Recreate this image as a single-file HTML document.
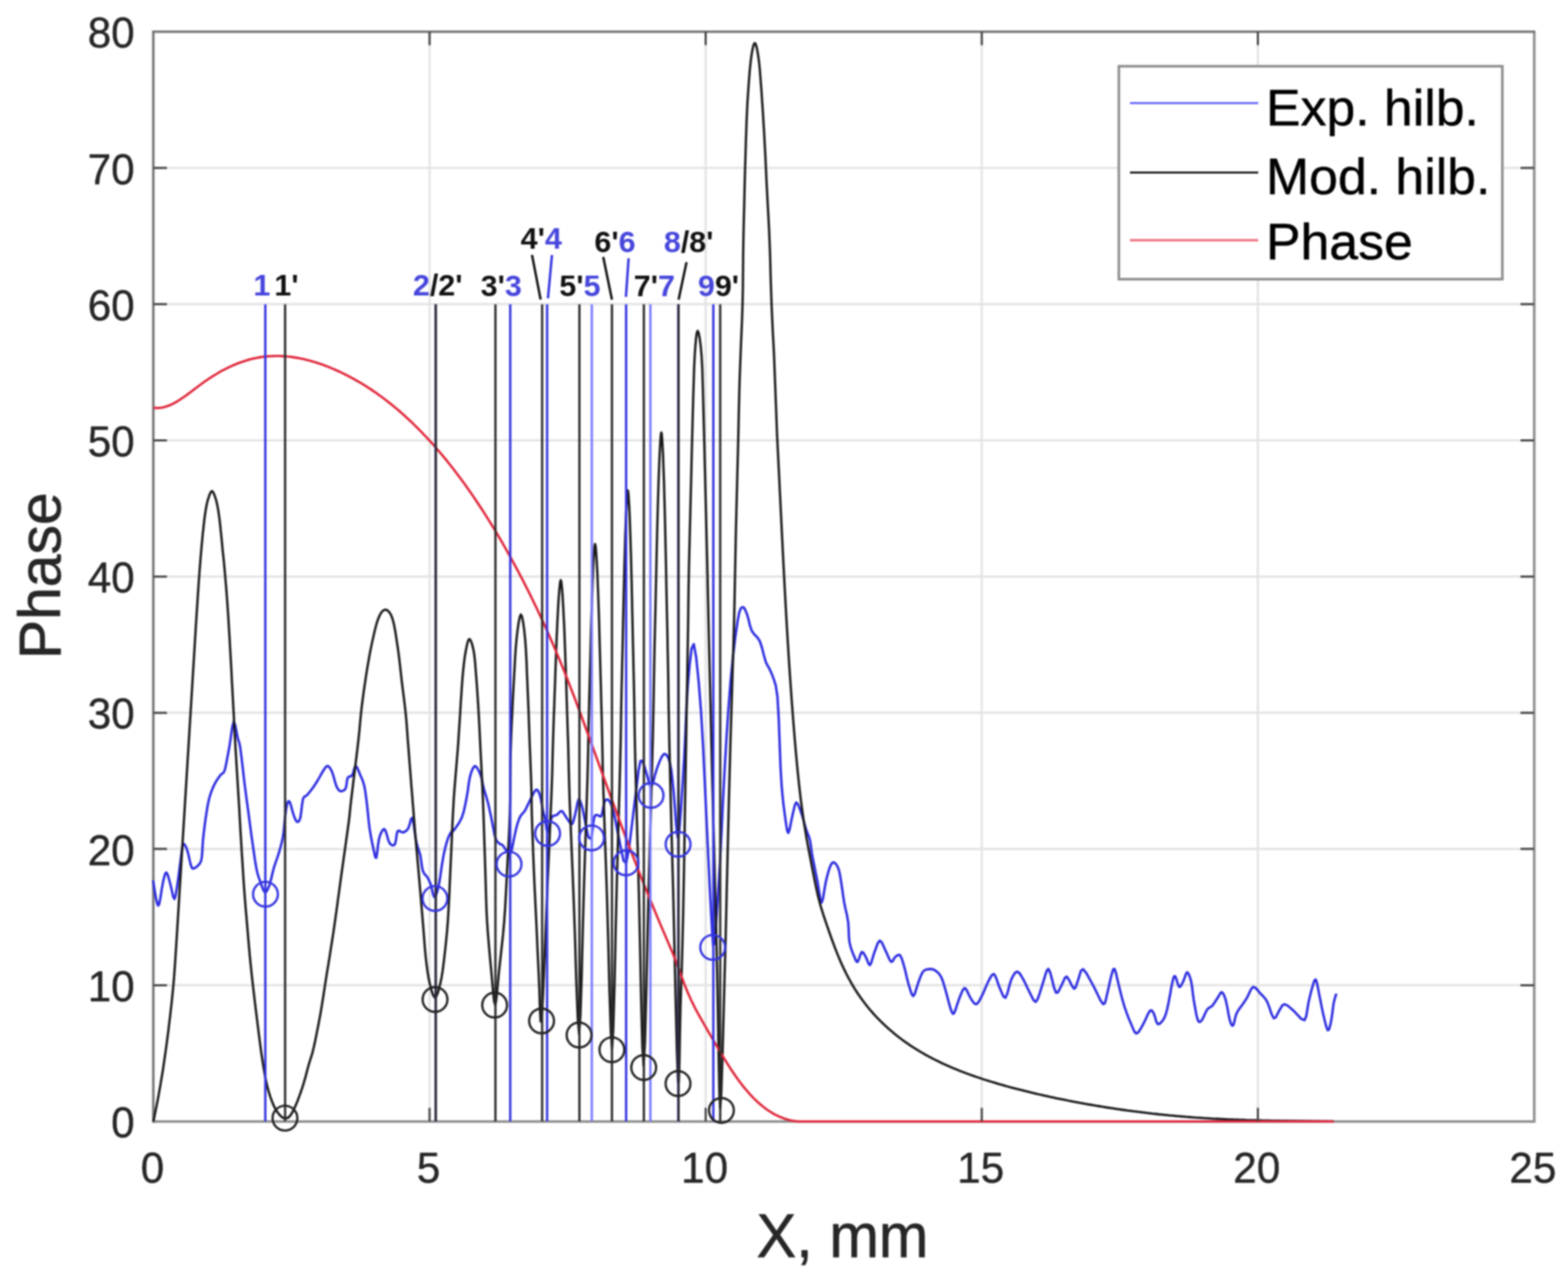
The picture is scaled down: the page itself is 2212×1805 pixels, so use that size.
<!DOCTYPE html>
<html><head><meta charset="utf-8"><style>html,body{margin:0;padding:0;background:#fff}svg{display:block}</style></head>
<body><svg width="2212" height="1805" viewBox="0 0 2212 1805"><defs><filter id="bl" x="0" y="0" width="1" height="1" color-interpolation-filters="sRGB"><feGaussianBlur stdDeviation="0.85"/></filter></defs><rect width="100%" height="100%" fill="#fff"/><g filter="url(#bl)"><rect width="100%" height="100%" fill="#fff"/><path d="M606.0 44.8V1582.6 M995.5 44.8V1582.6 M1385.0 44.8V1582.6 M1774.5 44.8V1582.6 M216.5 1390.4H2164 M216.5 1198.1H2164 M216.5 1005.9H2164 M216.5 813.7H2164 M216.5 621.5H2164 M216.5 429.2H2164 M216.5 237.0H2164" stroke="#e4e4e4" stroke-width="3.2" fill="none"/><path d="M216.3 1582.8H2164.4V44.8" fill="none" stroke="#8c8c8c" stroke-width="3.6"/><path d="M216.3 1584.5V44.8H2166" fill="none" stroke="#777" stroke-width="3.6"/><polyline points="216.0,1242.5 217.2,1250.6 219.0,1261.9 220.7,1270.7 221.9,1275.6 223.1,1278.1 224.4,1276.3 226.2,1267.8 228.2,1255.0 230.1,1244.4 231.7,1237.5 233.2,1232.7 234.8,1231.2 236.6,1234.5 238.5,1241.1 240.4,1248.1 242.3,1256.4 244.2,1265.1 246.1,1268.8 247.7,1264.1 249.3,1254.5 250.8,1244.4 252.1,1235.1 253.3,1225.4 254.5,1216.2 255.7,1206.6 256.9,1197.4 258.3,1191.7 260.0,1191.3 262.0,1194.4 263.9,1199.2 265.9,1206.3 267.8,1215.1 269.5,1221.8 270.8,1224.8 271.8,1225.7 273.3,1225.6 275.7,1224.5 278.5,1222.4 280.8,1219.9 282.4,1217.7 283.6,1215.1 284.6,1210.5 285.3,1203.1 285.8,1193.9 286.5,1184.2 287.6,1174.2 288.9,1163.7 290.2,1154.1 291.5,1145.7 292.7,1138.1 294.0,1131.6 295.2,1126.5 296.4,1122.5 297.7,1118.4 299.4,1114.0 301.3,1109.5 303.4,1105.3 305.8,1101.2 308.5,1097.3 310.9,1094.0 313.0,1092.1 314.9,1090.9 316.5,1088.3 317.9,1083.7 319.1,1077.8 320.3,1071.4 321.5,1065.2 322.7,1058.6 324.1,1050.8 325.8,1038.9 327.7,1025.8 329.7,1018.8 331.6,1022.6 333.6,1032.4 335.3,1041.4 336.7,1045.7 337.8,1049.3 339.1,1056.4 340.8,1069.8 342.8,1086.8 344.7,1103.4 346.6,1118.1 348.5,1132.5 350.4,1146.6 352.3,1160.7 354.1,1174.5 356.0,1188.0 357.9,1201.5 359.8,1214.6 361.7,1225.6 363.5,1233.4 365.3,1239.1 367.3,1244.4 369.4,1250.6 371.6,1256.5 373.9,1259.4 376.1,1258.0 378.3,1253.7 380.5,1248.1 382.3,1241.4 384.1,1233.5 386.1,1225.6 388.5,1218.0 391.2,1210.5 393.6,1203.0 395.7,1195.6 397.6,1188.2 399.2,1180.5 400.4,1171.7 401.2,1162.5 402.1,1154.1 403.0,1146.8 403.9,1140.2 404.9,1135.3 406.0,1132.1 407.2,1130.6 408.6,1131.6 410.4,1136.5 412.4,1144.0 414.3,1150.4 415.9,1154.8 417.5,1158.1 419.0,1159.8 420.6,1159.8 422.2,1158.1 423.7,1154.1 424.9,1146.1 426.1,1135.8 427.4,1127.8 429.1,1124.5 431.0,1123.6 433.1,1122.2 435.4,1119.4 438.0,1116.2 440.6,1112.8 443.1,1109.2 445.6,1105.5 448.1,1101.5 450.7,1097.0 453.2,1092.4 455.6,1088.3 457.9,1084.8 460.1,1081.9 462.2,1080.8 464.4,1082.4 466.7,1085.8 468.8,1090.2 470.7,1096.2 472.6,1103.2 474.4,1109.0 476.2,1112.8 478.1,1115.3 480.1,1116.5 482.6,1116.5 485.4,1115.3 487.6,1112.8 488.7,1108.2 489.4,1102.3 490.4,1097.7 492.4,1096.0 494.8,1095.5 497.0,1094.0 498.6,1089.3 500.1,1083.6 501.7,1080.8 503.8,1083.2 506.1,1088.5 508.3,1094.0 510.3,1098.4 512.2,1103.1 513.9,1109.0 515.3,1116.7 516.5,1125.6 517.7,1135.3 518.9,1146.2 520.0,1157.9 521.4,1169.2 523.2,1180.2 525.3,1190.8 527.1,1199.2 528.5,1205.8 529.6,1210.2 530.8,1210.5 532.0,1204.1 533.2,1193.4 534.6,1184.2 536.4,1178.3 538.4,1173.8 540.2,1171.1 541.5,1170.0 542.7,1170.6 544.0,1172.9 545.7,1178.0 547.5,1184.8 549.6,1189.8 552.1,1192.4 554.8,1193.2 557.1,1191.7 558.5,1186.2 559.5,1178.4 560.9,1172.9 563.1,1172.3 565.8,1174.0 568.4,1174.8 571.0,1173.8 573.6,1172.0 575.9,1169.2 578.0,1163.0 579.8,1155.9 581.6,1154.1 583.5,1162.4 585.3,1176.0 587.2,1188.0 589.2,1195.2 591.1,1200.8 592.9,1206.8 594.1,1214.5 595.2,1222.7 596.6,1229.3 598.7,1233.3 601.0,1235.7 603.2,1238.5 605.1,1242.2 606.8,1246.2 608.4,1250.6 609.8,1256.7 611.2,1263.1 612.7,1266.1 614.6,1264.3 616.6,1259.0 618.8,1250.6 621.0,1237.6 623.3,1221.5 625.7,1207.4 628.0,1196.9 630.3,1188.3 632.6,1181.5 635.1,1176.4 637.7,1173.1 639.5,1171.1 639.7,1171.3 639.3,1172.8 640.0,1172.1 643.2,1167.8 647.6,1161.3 651.5,1153.7 654.3,1144.9 656.5,1134.9 658.4,1124.9 660.1,1114.8 661.4,1104.7 663.0,1096.1 665.1,1089.0 667.5,1083.5 670.0,1081.1 672.7,1083.0 675.5,1088.0 678.0,1093.8 679.8,1099.8 681.1,1106.6 682.6,1113.4 684.5,1119.6 686.4,1125.9 688.4,1132.9 690.3,1141.4 692.3,1150.6 694.1,1159.4 695.7,1167.9 697.2,1176.0 698.8,1182.5 700.6,1186.5 702.6,1188.8 704.5,1190.6 706.1,1191.5 707.5,1191.9 709.1,1192.9 711.0,1195.3 712.9,1198.4 714.9,1200.9 716.8,1203.0 718.8,1204.4 720.6,1203.2 722.3,1198.0 723.8,1190.2 725.3,1182.5 726.8,1175.6 728.3,1168.8 729.9,1162.9 731.4,1158.3 732.8,1154.6 734.5,1151.4 736.3,1148.9 738.3,1146.9 740.2,1144.5 742.1,1141.1 744.0,1137.1 746.0,1132.9 748.3,1128.2 750.7,1123.1 752.9,1119.1 754.6,1116.4 756.1,1114.7 757.5,1114.5 759.1,1116.2 760.7,1119.5 762.1,1123.7 763.4,1129.4 764.5,1136.0 765.6,1142.2 766.7,1146.9 767.9,1151.2 769.0,1156.0 770.1,1163.2 771.2,1171.0 772.5,1174.4 774.2,1169.8 776.2,1160.8 778.2,1153.7 780.5,1151.3 782.8,1150.9 785.2,1150.2 787.6,1148.1 789.9,1145.6 792.1,1144.5 793.8,1145.5 795.2,1147.8 796.7,1150.2 798.2,1152.5 799.7,1154.9 801.3,1157.1 803.2,1159.9 805.2,1162.6 807.1,1162.9 808.7,1159.6 810.2,1154.0 811.7,1147.9 813.2,1140.7 814.7,1132.9 816.3,1128.3 817.8,1129.0 819.4,1132.9 820.9,1137.6 822.1,1142.2 823.1,1147.5 824.3,1153.7 825.9,1161.5 827.5,1170.1 828.9,1176.7 829.8,1180.2 830.5,1181.8 831.2,1182.5 832.3,1183.2 833.5,1183.0 834.7,1180.2 835.8,1172.3 836.9,1161.7 838.2,1153.7 839.6,1150.7 841.1,1150.2 842.8,1150.2 844.6,1151.1 846.6,1152.4 848.5,1151.4 850.1,1145.3 851.5,1136.8 853.1,1130.6 855.3,1128.4 857.7,1128.5 860.0,1130.8 862.3,1135.5 864.5,1142.4 866.7,1150.8 868.8,1161.0 870.9,1172.6 873.4,1184.2 876.4,1199.7 879.8,1215.2 883.4,1217.6 887.3,1197.6 891.4,1164.6 895.1,1134.1 898.2,1109.5 900.8,1087.5 903.5,1074.0 906.3,1073.7 909.2,1082.0 911.8,1090.7 914.1,1098.8 916.2,1107.4 918.5,1110.7 921.1,1105.0 923.9,1094.1 926.9,1084.0 930.1,1075.6 933.6,1067.9 936.9,1063.9 939.9,1064.9 942.8,1069.6 945.2,1077.3 947.2,1088.0 948.7,1101.6 950.3,1117.4 952.0,1138.6 953.7,1162.0 955.3,1177.5 956.4,1182.7 957.3,1180.1 958.6,1167.5 960.7,1140.8 963.1,1104.0 965.3,1067.3 967.0,1032.3 968.4,997.3 970.3,967.1 972.8,938.9 975.6,915.4 978.7,909.0 982.0,926.8 985.6,961.7 989.0,1004.4 992.0,1055.9 994.8,1115.3 997.3,1170.2 999.6,1217.9 1001.7,1261.0 1003.5,1294.5 1004.9,1319.2 1006.1,1334.3 1007.7,1331.8 1010.2,1303.6 1013.2,1257.8 1016.0,1211.6 1018.1,1170.5 1020.0,1128.9 1022.2,1087.3 1024.7,1044.4 1027.5,1001.5 1030.5,962.9 1033.8,928.9 1037.3,899.2 1040.5,876.8 1042.9,864.2 1045.0,858.8 1047.2,856.8 1049.4,857.4 1051.6,861.4 1053.8,866.8 1055.9,874.0 1057.9,882.6 1060.5,890.2 1064.1,895.2 1068.2,899.2 1071.9,904.9 1074.9,913.9 1077.6,924.6 1080.2,933.9 1083.0,939.7 1085.7,944.2 1088.5,950.5 1091.4,958.0 1094.3,967.3 1096.8,983.6 1098.5,1013.1 1099.9,1049.6 1101.0,1080.0 1102.0,1098.2 1102.8,1110.2 1103.8,1121.5 1105.1,1134.1 1106.6,1145.9 1108.0,1156.0 1109.3,1165.2 1110.6,1172.7 1112.1,1175.4 1113.9,1170.6 1115.8,1161.0 1117.7,1151.9 1119.5,1143.9 1121.3,1136.3 1123.2,1132.5 1125.4,1134.3 1127.7,1139.8 1130.1,1146.4 1132.5,1153.8 1134.8,1162.3 1137.0,1169.9 1139.0,1175.4 1140.9,1180.0 1142.5,1185.1 1143.6,1191.2 1144.4,1197.7 1145.3,1204.4 1146.6,1211.2 1148.0,1218.2 1149.4,1225.2 1150.7,1231.8 1152.1,1238.5 1153.6,1245.9 1155.3,1256.7 1157.2,1268.2 1159.1,1273.6 1161.0,1268.2 1162.8,1256.7 1164.7,1245.9 1166.5,1238.0 1168.4,1230.9 1170.2,1225.2 1172.0,1220.9 1173.8,1218.0 1175.7,1216.9 1178.0,1218.0 1180.4,1220.9 1182.6,1225.2 1184.2,1230.9 1185.5,1238.0 1186.8,1245.9 1188.1,1254.6 1189.4,1264.1 1190.9,1273.6 1192.8,1282.8 1194.9,1291.9 1196.5,1301.2 1197.2,1310.9 1197.5,1320.8 1198.4,1329.8 1200.4,1337.8 1203.0,1344.9 1205.3,1350.5 1207.0,1354.6 1208.4,1357.2 1209.9,1357.4 1211.7,1353.6 1213.7,1347.4 1215.7,1343.6 1217.6,1344.2 1219.5,1347.1 1221.4,1350.5 1223.3,1355.0 1225.3,1360.1 1227.2,1362.0 1229.0,1358.8 1230.9,1352.5 1232.9,1345.9 1235.5,1338.7 1238.2,1331.3 1241.0,1327.5 1243.7,1329.6 1246.4,1335.3 1249.1,1341.3 1251.9,1347.3 1254.6,1353.7 1257.1,1357.4 1259.2,1356.7 1261.0,1353.3 1262.9,1350.5 1265.2,1348.7 1267.6,1347.4 1269.8,1348.2 1271.8,1352.0 1273.7,1357.8 1275.6,1364.3 1277.5,1371.7 1279.3,1379.8 1281.3,1387.4 1283.6,1395.2 1285.9,1402.6 1288.2,1405.8 1290.6,1402.3 1292.9,1394.7 1295.2,1387.4 1297.4,1381.4 1299.7,1375.6 1302.1,1371.2 1304.7,1369.0 1307.4,1368.1 1310.1,1367.8 1312.8,1367.5 1315.4,1367.8 1318.2,1368.9 1321.3,1371.0 1324.5,1373.9 1327.4,1378.2 1329.9,1384.0 1332.1,1391.2 1334.3,1398.9 1336.7,1407.7 1339.1,1417.1 1341.2,1424.2 1342.9,1428.5 1344.2,1430.7 1345.9,1430.0 1347.9,1425.2 1350.3,1417.6 1352.8,1410.4 1355.4,1403.7 1358.1,1397.3 1360.8,1394.3 1363.5,1396.8 1366.2,1402.7 1368.9,1408.1 1371.6,1412.3 1374.3,1416.0 1377.0,1417.3 1379.6,1415.4 1382.2,1411.1 1385.0,1405.8 1388.1,1399.2 1391.2,1391.6 1394.2,1385.1 1397.0,1379.7 1399.7,1375.6 1402.3,1374.7 1405.0,1379.2 1407.7,1387.1 1410.4,1394.3 1413.1,1400.8 1415.7,1406.6 1418.4,1408.1 1421.1,1402.1 1423.8,1391.6 1426.5,1382.8 1429.2,1377.1 1431.9,1373.0 1434.6,1371.2 1437.2,1372.4 1439.9,1375.9 1442.6,1380.5 1445.6,1386.1 1448.7,1392.7 1451.8,1398.9 1455.0,1405.4 1458.1,1411.6 1461.1,1413.9 1463.8,1410.1 1466.5,1402.5 1469.1,1394.3 1471.9,1385.2 1474.8,1375.4 1477.2,1368.9 1478.9,1367.4 1480.1,1369.2 1481.8,1373.5 1484.2,1382.5 1487.0,1394.0 1489.9,1401.2 1492.6,1400.3 1495.3,1395.0 1497.9,1389.7 1500.2,1384.8 1502.3,1379.9 1504.8,1378.2 1508.2,1382.9 1512.0,1390.8 1515.2,1395.4 1517.4,1393.5 1519.1,1388.3 1521.0,1382.8 1522.9,1376.5 1524.9,1369.9 1527.9,1367.8 1532.4,1373.2 1537.9,1383.0 1543.2,1392.8 1548.0,1402.4 1552.6,1412.0 1556.3,1417.2 1558.8,1415.5 1560.4,1409.4 1562.0,1402.2 1563.9,1394.2 1565.8,1385.2 1567.6,1377.7 1569.2,1371.9 1570.6,1367.7 1572.3,1367.4 1574.3,1373.1 1576.5,1382.8 1578.9,1392.8 1581.2,1402.1 1583.7,1411.8 1586.4,1421.0 1589.5,1429.8 1592.7,1438.2 1595.8,1445.4 1598.4,1451.6 1600.7,1456.6 1603.3,1458.6 1606.3,1456.3 1609.5,1451.2 1612.7,1445.4 1616.0,1438.7 1619.3,1431.4 1622.1,1426.6 1624.3,1425.8 1626.0,1427.5 1627.7,1430.4 1629.5,1435.5 1631.2,1441.8 1633.4,1445.4 1636.4,1444.5 1639.8,1440.9 1642.8,1436.0 1644.9,1430.3 1646.7,1423.3 1648.4,1415.3 1650.4,1405.2 1652.3,1394.0 1654.1,1385.3 1655.4,1380.3 1656.5,1377.7 1657.8,1377.7 1659.6,1381.9 1661.5,1388.6 1663.5,1392.8 1665.3,1392.2 1667.2,1389.0 1669.1,1385.3 1671.0,1380.3 1672.9,1374.8 1674.7,1372.1 1676.7,1374.1 1678.6,1378.9 1680.4,1385.3 1681.7,1393.0 1682.8,1402.2 1684.1,1411.6 1685.9,1421.9 1687.8,1432.4 1689.8,1439.8 1691.6,1442.4 1693.4,1441.9 1695.4,1439.8 1697.8,1435.5 1700.4,1429.6 1702.9,1424.7 1705.4,1422.4 1707.9,1421.0 1710.5,1419.1 1713.0,1415.6 1715.6,1411.5 1718.0,1407.8 1720.0,1404.3 1721.8,1401.3 1723.6,1400.3 1725.5,1402.0 1727.4,1405.9 1729.2,1411.6 1731.2,1420.5 1733.1,1431.3 1734.9,1439.8 1736.5,1444.7 1738.1,1447.4 1739.6,1447.3 1741.0,1443.3 1742.5,1436.5 1744.3,1430.4 1746.6,1426.2 1749.2,1422.6 1751.8,1419.1 1754.3,1415.5 1756.7,1411.9 1759.3,1407.8 1762.0,1402.2 1764.8,1396.1 1767.8,1392.8 1771.1,1394.0 1774.7,1398.0 1778.1,1402.2 1781.3,1405.3 1784.4,1408.7 1787.5,1413.5 1790.7,1421.6 1793.9,1431.2 1796.9,1437.0 1799.6,1436.0 1802.0,1431.2 1804.4,1426.6 1806.7,1422.7 1809.0,1418.9 1812.0,1417.2 1815.9,1418.8 1820.4,1422.5 1825.1,1426.6 1830.3,1432.1 1835.8,1438.0 1840.2,1439.8 1842.7,1434.3 1844.3,1424.7 1845.8,1415.3 1847.7,1407.2 1849.6,1399.3 1851.4,1392.8 1853.1,1387.3 1854.6,1383.2 1856.1,1382.4 1857.7,1386.5 1859.2,1393.9 1860.8,1402.2 1862.6,1411.1 1864.5,1421.0 1866.5,1430.4 1868.7,1439.9 1871.0,1448.9 1873.0,1453.9 1874.8,1453.0 1876.3,1448.1 1877.7,1441.7 1879.1,1433.4 1880.3,1423.7 1881.5,1415.3 1882.9,1409.5 1884.3,1405.1 1885.3,1402.2" fill="none" stroke="#2c2ce0" stroke-width="3.4" stroke-linejoin="round"/><path d="M216.5 1582.6 L217.3 1578.6 L218.4 1573.0 L219.7 1566.5 L221.0 1560.0 L222.2 1553.7 L223.5 1547.0 L224.7 1540.1 L226.0 1533.0 L227.2 1525.6 L228.5 1518.1 L229.8 1510.2 L231.0 1502.0 L232.2 1493.5 L233.5 1484.6 L234.8 1475.5 L236.0 1466.0 L237.3 1456.2 L238.5 1446.1 L239.8 1435.6 L241.0 1425.0 L242.2 1414.4 L243.3 1403.7 L244.4 1392.4 L245.5 1380.0 L246.5 1366.2 L247.5 1351.2 L248.5 1335.7 L249.5 1320.0 L250.5 1304.1 L251.5 1287.8 L252.5 1271.4 L253.5 1255.0 L254.5 1238.8 L255.5 1222.5 L256.5 1206.2 L257.5 1190.0 L258.5 1173.8 L259.5 1157.5 L260.5 1141.2 L261.5 1125.0 L262.5 1108.8 L263.5 1092.5 L264.5 1076.2 L265.5 1060.0 L266.5 1043.8 L267.5 1027.5 L268.5 1011.2 L269.5 995.0 L270.5 978.8 L271.5 962.5 L272.5 946.2 L273.5 930.0 L274.5 913.5 L275.5 896.9 L276.5 880.5 L277.5 865.0 L278.5 850.2 L279.4 835.9 L280.3 822.5 L281.2 810.0 L282.1 798.7 L282.9 788.4 L283.7 778.9 L284.5 770.0 L285.3 761.6 L286.0 753.9 L286.8 746.7 L287.5 740.0 L288.2 733.8 L289.0 728.1 L289.7 722.8 L290.5 718.0 L291.3 713.6 L292.1 709.8 L293.0 706.2 L294.0 703.0 L295.1 699.7 L296.4 696.4 L297.7 694.0 L299.0 693.0 L300.3 694.0 L301.6 696.4 L302.9 699.7 L304.0 703.0 L305.0 706.2 L305.9 709.8 L306.7 713.6 L307.5 718.0 L308.3 722.8 L309.0 728.1 L309.8 733.8 L310.5 740.0 L311.2 746.9 L312.0 754.5 L312.8 762.3 L313.5 770.0 L314.2 777.4 L315.0 784.7 L315.8 792.1 L316.5 800.0 L317.3 808.4 L318.0 817.2 L318.8 826.1 L319.5 835.0 L320.1 843.2 L320.7 850.9 L321.3 859.5 L322.0 870.0 L322.8 883.1 L323.7 898.1 L324.6 914.1 L325.5 930.0 L326.4 945.9 L327.2 962.2 L328.1 978.6 L329.0 995.0 L329.9 1011.2 L330.7 1027.5 L331.6 1043.8 L332.5 1060.0 L333.5 1076.2 L334.5 1092.5 L335.5 1108.8 L336.5 1125.0 L337.5 1141.2 L338.4 1157.5 L339.3 1173.8 L340.3 1190.0 L341.3 1206.5 L342.4 1223.1 L343.4 1239.5 L344.5 1255.0 L345.6 1269.6 L346.7 1283.4 L347.9 1296.8 L349.0 1310.0 L350.1 1323.0 L351.2 1335.6 L352.3 1348.0 L353.5 1360.0 L354.7 1371.6 L355.9 1382.8 L357.2 1393.9 L358.5 1405.0 L359.8 1416.2 L361.2 1427.5 L362.6 1438.8 L364.0 1450.0 L365.4 1461.4 L366.9 1472.9 L368.4 1484.2 L370.0 1495.0 L371.6 1505.2 L373.3 1515.1 L375.1 1524.4 L377.0 1533.0 L379.1 1540.8 L381.4 1548.0 L383.7 1554.4 L386.0 1560.0 L388.3 1564.6 L390.6 1568.4 L392.9 1571.5 L395.0 1574.0 L396.9 1575.9 L398.7 1577.2 L400.4 1577.9 L402.1 1578.2 L403.8 1578.2 L405.5 1577.7 L407.3 1576.7 L409.0 1575.0 L410.8 1572.5 L412.6 1569.4 L414.4 1565.8 L416.2 1562.0 L417.9 1558.1 L419.7 1553.9 L421.3 1549.5 L423.0 1545.0 L424.6 1540.4 L426.2 1535.8 L427.7 1530.9 L429.3 1525.6 L431.0 1519.8 L432.6 1513.5 L434.3 1507.1 L436.0 1501.0 L437.6 1495.8 L439.1 1491.2 L440.7 1485.9 L442.5 1478.6 L444.7 1468.6 L447.1 1456.6 L449.6 1443.9 L451.9 1431.6 L453.9 1419.8 L455.8 1408.1 L457.6 1396.3 L459.4 1384.6 L461.3 1372.6 L463.3 1360.5 L465.2 1348.7 L466.9 1337.6 L468.4 1328.2 L469.7 1320.0 L471.0 1311.2 L472.6 1300.0 L474.6 1285.8 L476.8 1269.4 L479.2 1252.0 L481.6 1234.3 L484.3 1215.2 L487.2 1194.6 L489.9 1175.3 L492.0 1160.0 L493.1 1150.8 L493.6 1145.7 L494.0 1141.5 L494.7 1134.9 L495.9 1124.8 L497.3 1113.2 L498.8 1100.8 L500.3 1088.8 L501.7 1077.3 L503.1 1065.8 L504.5 1054.3 L505.8 1042.8 L507.0 1031.3 L508.0 1019.8 L509.1 1008.2 L510.4 996.7 L511.9 985.0 L513.5 973.3 L515.2 961.7 L516.9 950.6 L518.6 940.0 L520.4 929.7 L522.2 919.8 L524.2 910.0 L526.4 900.0 L528.7 889.9 L531.1 880.6 L533.5 873.2 L536.0 867.7 L538.5 863.6 L541.1 861.2 L543.6 860.3 L546.2 861.1 L548.8 863.4 L551.4 867.4 L553.7 873.2 L555.8 881.3 L557.7 891.4 L559.4 902.5 L561.1 913.7 L562.6 924.8 L564.0 936.4 L565.3 948.1 L566.6 959.8 L568.0 971.3 L569.5 982.8 L570.9 994.4 L572.2 1005.9 L573.3 1017.4 L574.2 1029.0 L575.0 1040.5 L575.9 1052.0 L576.8 1063.5 L577.7 1075.1 L578.6 1086.6 L579.5 1098.1 L580.4 1109.8 L581.4 1121.7 L582.3 1133.3 L583.2 1144.1 L583.9 1153.5 L584.6 1161.8 L585.2 1170.3 L586.0 1180.0 L587.0 1191.0 L588.1 1202.9 L589.2 1215.8 L590.5 1230.0 L591.9 1246.5 L593.5 1264.9 L595.0 1283.3 L596.4 1300.0 L597.6 1314.6 L598.6 1328.1 L599.6 1340.5 L600.7 1351.8 L601.9 1362.0 L603.1 1371.0 L604.4 1379.1 L605.9 1386.4 L607.7 1393.7 L609.6 1400.7 L611.7 1405.9 L613.7 1408.0 L615.7 1405.9 L617.8 1400.7 L619.7 1393.7 L621.5 1386.4 L623.0 1379.1 L624.3 1371.0 L625.5 1362.0 L626.7 1351.8 L628.0 1340.6 L629.3 1328.4 L630.6 1315.0 L631.8 1300.0 L632.8 1282.9 L633.8 1264.0 L634.6 1244.3 L635.5 1225.0 L636.4 1205.4 L637.3 1185.4 L638.1 1166.3 L638.9 1150.0 L639.6 1137.7 L640.1 1128.1 L640.7 1119.4 L641.5 1109.2 L642.5 1097.0 L643.6 1084.0 L644.7 1070.6 L645.8 1057.4 L646.7 1044.4 L647.5 1031.5 L648.4 1018.5 L649.2 1005.5 L650.0 992.1 L650.9 978.5 L651.8 965.4 L652.7 953.7 L653.7 943.4 L654.7 934.2 L655.8 926.1 L657.0 919.1 L658.2 912.7 L659.5 907.2 L660.8 903.3 L662.2 901.8 L663.7 903.3 L665.4 907.2 L666.9 912.7 L668.3 919.1 L669.3 926.1 L670.2 934.2 L670.9 943.4 L671.7 953.7 L672.6 965.4 L673.5 978.5 L674.4 992.1 L675.2 1005.5 L675.9 1018.5 L676.6 1031.5 L677.2 1044.4 L677.8 1057.4 L678.5 1070.6 L679.2 1084.0 L679.8 1097.0 L680.4 1109.2 L680.9 1119.4 L681.3 1128.1 L681.6 1137.7 L682.1 1150.0 L682.6 1166.3 L683.2 1185.4 L683.9 1205.4 L684.5 1225.0 L685.1 1243.9 L685.6 1262.8 L686.2 1281.6 L687.1 1300.0 L688.4 1318.4 L689.9 1336.7 L691.5 1354.2 L693.0 1370.0 L694.4 1385.8 L695.8 1401.4 L697.1 1413.3 L698.5 1418.0 L699.8 1413.3 L701.1 1401.4 L702.5 1385.8 L704.0 1370.0 L705.8 1354.2 L707.7 1336.7 L709.7 1318.4 L711.3 1300.0 L712.6 1281.6 L713.6 1262.8 L714.6 1243.9 L715.5 1225.0 L716.5 1206.3 L717.6 1187.5 L718.5 1168.8 L719.2 1150.0 L719.6 1130.6 L719.8 1110.9 L719.9 1091.8 L720.1 1074.6 L720.4 1060.4 L720.8 1048.3 L721.2 1036.4 L721.8 1022.8 L722.6 1006.3 L723.4 988.3 L724.4 970.2 L725.3 953.7 L726.1 939.1 L726.8 925.6 L727.7 913.1 L728.7 901.8 L730.0 890.3 L731.6 879.1 L733.2 870.7 L734.8 867.3 L736.4 870.3 L738.0 878.1 L739.5 889.1 L740.8 901.8 L741.9 916.7 L742.8 934.2 L743.5 952.9 L744.3 971.0 L745.0 988.3 L745.7 1005.6 L746.3 1022.8 L746.9 1040.1 L747.6 1058.0 L748.3 1076.4 L749.0 1093.9 L749.5 1109.2 L749.8 1120.6 L749.9 1129.2 L750.0 1138.1 L750.3 1150.0 L750.8 1166.3 L751.5 1185.4 L752.2 1205.4 L753.0 1225.0 L753.8 1243.8 L754.7 1262.5 L755.6 1281.2 L756.5 1300.0 L757.4 1319.0 L758.2 1338.1 L759.1 1357.0 L760.0 1375.0 L760.9 1397.8 L761.7 1423.8 L762.7 1441.7 L764.0 1440.0 L765.8 1409.9 L767.9 1359.4 L770.2 1302.6 L772.1 1253.6 L773.9 1214.5 L775.5 1178.3 L776.9 1145.6 L778.1 1117.0 L778.9 1093.7 L779.4 1075.0 L779.8 1058.7 L780.3 1042.4 L780.8 1026.0 L781.3 1010.6 L781.9 995.6 L782.4 980.3 L783.0 964.5 L783.5 948.5 L784.1 932.8 L784.6 918.2 L785.1 904.5 L785.7 891.6 L786.2 879.5 L786.8 868.5 L787.3 858.4 L787.8 849.3 L788.4 841.2 L788.9 834.3 L789.5 828.4 L790.0 823.4 L790.6 820.0 L791.1 818.8 L791.6 820.1 L792.1 823.6 L792.7 828.7 L793.2 834.8 L793.7 841.9 L794.2 850.2 L794.7 859.6 L795.2 870.0 L795.8 881.4 L796.3 893.8 L796.8 907.2 L797.3 921.2 L797.8 936.3 L798.4 952.4 L798.9 968.9 L799.4 985.3 L799.9 1001.0 L800.4 1016.5 L800.9 1032.4 L801.5 1049.3 L801.9 1066.1 L802.3 1082.9 L802.8 1102.1 L803.5 1126.1 L804.7 1155.6 L806.0 1189.3 L807.6 1226.6 L809.2 1266.9 L811.1 1320.7 L813.0 1384.7 L815.1 1437.9 L817.0 1459.0 L818.8 1433.9 L820.6 1376.8 L822.2 1308.9 L823.8 1251.6 L825.2 1208.1 L826.5 1167.8 L827.7 1131.4 L828.7 1099.5 L829.4 1073.6 L829.8 1052.9 L830.1 1034.7 L830.5 1016.6 L831.0 998.3 L831.4 981.1 L831.9 964.4 L832.3 947.4 L832.8 929.8 L833.2 912.0 L833.6 894.6 L834.1 878.3 L834.6 863.1 L835.0 848.7 L835.5 835.3 L835.9 823.0 L836.4 811.8 L836.8 801.6 L837.2 792.6 L837.7 785.0 L838.1 778.4 L838.6 772.9 L839.0 769.1 L839.5 767.7 L840.0 769.2 L840.5 773.1 L840.9 778.7 L841.4 785.5 L841.9 793.4 L842.4 802.6 L842.9 813.1 L843.3 824.7 L843.8 837.3 L844.3 851.2 L844.8 866.0 L845.3 881.7 L845.7 898.5 L846.2 916.4 L846.7 934.8 L847.2 952.9 L847.7 970.4 L848.1 987.6 L848.6 1005.3 L849.1 1024.1 L849.5 1042.8 L849.9 1061.5 L850.3 1082.9 L851.0 1109.6 L852.1 1142.4 L853.3 1179.9 L854.8 1221.5 L856.3 1266.3 L858.0 1326.3 L859.8 1397.7 L861.7 1456.9 L863.5 1480.0 L865.2 1451.1 L867.0 1386.0 L868.6 1308.9 L870.2 1243.7 L871.6 1194.1 L872.9 1148.1 L874.1 1106.7 L875.0 1070.3 L875.7 1040.8 L876.1 1017.2 L876.4 996.5 L876.8 975.8 L877.3 955.0 L877.7 935.4 L878.2 916.4 L878.6 897.0 L879.0 877.0 L879.5 856.7 L879.9 836.8 L880.4 818.2 L880.8 800.9 L881.3 784.5 L881.7 769.2 L882.1 755.2 L882.6 742.5 L883.0 730.9 L883.5 720.6 L883.9 711.9 L884.4 704.4 L884.8 698.1 L885.3 693.8 L885.7 692.2 L886.1 693.9 L886.6 698.3 L887.0 704.8 L887.5 712.5 L887.9 721.5 L888.4 732.0 L888.8 744.0 L889.3 757.1 L889.7 771.6 L890.2 787.3 L890.6 804.2 L891.1 822.1 L891.5 841.2 L891.9 861.7 L892.4 882.6 L892.8 903.3 L893.3 923.2 L893.7 942.8 L894.2 963.0 L894.6 984.4 L895.0 1005.8 L895.3 1027.1 L895.7 1051.4 L896.4 1081.9 L897.4 1119.3 L898.6 1162.0 L899.9 1209.3 L901.3 1260.5 L902.8 1328.8 L904.5 1410.1 L906.2 1477.6 L908.0 1504.0 L909.9 1471.3 L911.8 1397.5 L913.7 1309.9 L915.5 1235.9 L917.1 1179.7 L918.6 1127.6 L919.9 1080.5 L921.0 1039.3 L921.7 1005.8 L922.2 979.0 L922.6 955.6 L923.0 932.1 L923.5 908.5 L924.0 886.3 L924.5 864.7 L925.0 842.7 L925.5 820.0 L926.0 796.9 L926.5 774.5 L927.0 753.4 L927.5 733.7 L928.0 715.1 L928.5 697.8 L929.0 681.9 L929.5 667.4 L930.0 654.2 L930.5 642.6 L931.0 632.7 L931.5 624.2 L932.0 617.1 L932.5 612.2 L933.0 610.4 L933.5 612.3 L933.9 617.3 L934.4 624.6 L934.9 633.3 L935.4 643.4 L935.8 655.4 L936.3 668.9 L936.8 683.7 L937.2 700.0 L937.7 717.8 L938.2 736.9 L938.6 757.1 L939.1 778.7 L939.6 801.7 L940.0 825.4 L940.5 848.7 L941.0 871.2 L941.5 893.4 L941.9 916.2 L942.4 940.4 L942.8 964.4 L943.1 988.5 L943.6 1016.0 L944.3 1050.4 L945.3 1092.6 L946.5 1140.9 L947.9 1194.3 L949.5 1252.0 L951.2 1324.6 L953.1 1408.8 L954.9 1483.4 L956.5 1527.0 L957.6 1527.4 L958.5 1498.2 L959.2 1456.6 L960.0 1420.0 L960.9 1392.8 L961.8 1365.8 L962.6 1335.9 L963.5 1300.0 L964.4 1255.6 L965.3 1205.0 L966.1 1151.9 L967.0 1100.0 L967.9 1047.5 L968.8 993.3 L969.7 942.5 L970.4 900.0 L970.9 869.6 L971.1 847.9 L971.4 829.0 L971.8 807.0 L972.4 780.6 L973.1 752.8 L973.8 724.5 L974.5 696.4 L975.2 668.1 L975.9 639.4 L976.6 611.5 L977.3 585.8 L977.9 562.0 L978.6 539.7 L979.2 519.8 L980.0 503.0 L980.9 489.0 L981.9 477.6 L983.0 469.8 L984.2 467.0 L985.6 469.8 L987.1 477.6 L988.6 489.0 L989.8 503.0 L990.7 519.8 L991.3 539.7 L991.9 562.0 L992.5 585.8 L993.2 611.5 L993.9 639.4 L994.6 668.1 L995.3 696.4 L996.0 724.9 L996.7 754.1 L997.4 782.0 L998.0 807.0 L998.4 825.7 L998.7 840.0 L999.1 856.1 L999.6 880.0 L1000.4 914.9 L1001.4 957.1 L1002.5 1002.2 L1003.5 1045.8 L1004.5 1087.2 L1005.6 1128.7 L1006.6 1170.1 L1007.7 1211.6 L1008.7 1252.6 L1009.8 1293.2 L1010.8 1334.5 L1011.8 1377.4 L1012.8 1431.3 L1013.8 1492.7 L1014.8 1543.1 L1016.0 1564.0 L1017.5 1543.1 L1019.1 1492.7 L1020.8 1431.3 L1022.2 1377.4 L1023.4 1334.5 L1024.4 1293.2 L1025.3 1252.6 L1026.3 1211.6 L1027.3 1170.1 L1028.3 1128.7 L1029.4 1087.2 L1030.5 1045.8 L1031.8 1003.5 L1033.1 960.6 L1034.4 918.8 L1035.5 880.0 L1036.3 844.9 L1036.9 812.4 L1037.5 781.7 L1038.1 751.7 L1038.8 722.8 L1039.5 695.3 L1040.2 668.3 L1040.9 641.1 L1041.6 613.2 L1042.2 585.2 L1042.8 557.5 L1043.6 530.6 L1044.6 504.5 L1045.6 479.1 L1046.7 454.2 L1047.5 430.0 L1048.0 406.2 L1048.2 382.8 L1048.4 360.4 L1048.7 339.5 L1049.1 320.7 L1049.5 303.6 L1049.9 287.2 L1050.3 270.4 L1050.7 252.9 L1051.2 235.1 L1051.7 217.8 L1052.2 201.3 L1052.7 186.1 L1053.2 171.8 L1053.8 157.8 L1054.5 143.7 L1055.5 128.5 L1056.6 112.8 L1057.8 98.1 L1059.1 86.0 L1060.4 76.2 L1061.9 68.2 L1063.3 62.7 L1064.8 60.7 L1066.3 62.7 L1067.8 68.2 L1069.2 76.2 L1070.6 86.0 L1071.9 98.1 L1073.0 112.8 L1074.2 128.5 L1075.2 143.7 L1076.2 157.8 L1077.0 171.8 L1077.9 186.1 L1078.7 201.3 L1079.6 217.8 L1080.4 235.1 L1081.2 252.9 L1082.1 270.4 L1083.0 287.2 L1083.9 303.6 L1084.8 320.7 L1085.6 339.5 L1086.4 361.0 L1087.0 384.5 L1087.7 408.1 L1088.5 430.0 L1089.4 451.2 L1090.4 472.1 L1091.4 490.2 L1092.0 502.9 L1096.2 613.3 L1097.7 643.3 L1099.2 673.8 L1100.7 704.6 L1102.2 735.3 L1103.7 765.6 L1105.2 795.3 L1106.7 824.1 L1108.2 851.9 L1109.7 878.4 L1111.2 903.6 L1112.7 927.6 L1114.2 950.3 L1115.7 972.0 L1117.2 992.7 L1118.7 1012.4 L1120.2 1031.3 L1121.7 1049.3 L1123.2 1066.4 L1124.7 1082.4 L1126.2 1097.3 L1127.7 1111.3 L1129.2 1124.2 L1130.0 1130.8 L1134.0 1160.0 L1138.0 1184.2 L1142.0 1205.5 L1146.0 1226.0 L1150.0 1246.4 L1154.0 1264.8 L1158.0 1279.8 L1162.0 1292.4 L1166.0 1304.3 L1170.0 1315.9 L1174.0 1327.1 L1178.0 1337.9 L1182.0 1348.0 L1186.0 1357.5 L1190.0 1366.3 L1194.0 1374.4 L1198.0 1382.0 L1202.0 1389.1 L1206.0 1395.8 L1210.0 1402.0 L1214.0 1407.8 L1218.0 1413.3 L1222.0 1418.5 L1226.0 1423.5 L1230.0 1428.1 L1234.0 1432.6 L1238.0 1436.8 L1242.0 1440.9 L1246.0 1444.8 L1250.0 1448.6 L1254.0 1452.2 L1258.0 1455.6 L1262.0 1459.0 L1266.0 1462.2 L1270.0 1465.3 L1274.0 1468.3 L1278.0 1471.1 L1282.0 1473.9 L1286.0 1476.6 L1290.0 1479.2 L1294.0 1481.7 L1298.0 1484.1 L1302.0 1486.4 L1306.0 1488.7 L1310.0 1490.9 L1314.0 1493.0 L1318.0 1495.1 L1322.0 1497.1 L1326.0 1499.0 L1330.0 1500.9 L1334.0 1502.7 L1338.0 1504.5 L1342.0 1506.2 L1346.0 1507.9 L1350.0 1509.6 L1354.0 1511.2 L1358.0 1512.7 L1362.0 1514.3 L1366.0 1515.7 L1370.0 1517.2 L1374.0 1518.6 L1378.0 1520.0 L1382.0 1521.3 L1386.0 1522.7 L1390.0 1524.0 L1394.0 1525.2 L1398.0 1526.5 L1402.0 1527.7 L1406.0 1528.9 L1410.0 1530.1 L1414.0 1531.2 L1418.0 1532.4 L1422.0 1533.5 L1426.0 1534.6 L1430.0 1535.6 L1434.0 1536.7 L1438.0 1537.7 L1442.0 1538.7 L1446.0 1539.7 L1450.0 1540.7 L1454.0 1541.7 L1458.0 1542.6 L1462.0 1543.6 L1466.0 1544.5 L1470.0 1545.4 L1474.0 1546.3 L1478.0 1547.2 L1482.0 1548.1 L1486.0 1548.9 L1490.0 1549.8 L1494.0 1550.6 L1498.0 1551.4 L1502.0 1552.2 L1506.0 1553.0 L1510.0 1553.8 L1514.0 1554.6 L1518.0 1555.3 L1522.0 1556.1 L1526.0 1556.8 L1530.0 1557.6 L1534.0 1558.3 L1538.0 1559.0 L1542.0 1559.7 L1546.0 1560.4 L1550.0 1561.0 L1554.0 1561.7 L1558.0 1562.3 L1562.0 1563.0 L1566.0 1563.6 L1570.0 1564.2 L1574.0 1564.8 L1578.0 1565.4 L1582.0 1566.0 L1586.0 1566.5 L1590.0 1567.1 L1594.0 1567.6 L1598.0 1568.2 L1602.0 1568.7 L1606.0 1569.2 L1610.0 1569.7 L1614.0 1570.2 L1618.0 1570.7 L1622.0 1571.1 L1626.0 1571.6 L1630.0 1572.0 L1634.0 1572.5 L1638.0 1572.9 L1642.0 1573.3 L1646.0 1573.7 L1650.0 1574.1 L1654.0 1574.4 L1658.0 1574.8 L1662.0 1575.2 L1666.0 1575.5 L1670.0 1575.8 L1674.0 1576.2 L1678.0 1576.5 L1682.0 1576.8 L1686.0 1577.1 L1690.0 1577.3 L1694.0 1577.6 L1698.0 1577.9 L1702.0 1578.1 L1706.0 1578.3 L1710.0 1578.6 L1714.0 1578.8 L1718.0 1579.0 L1722.0 1579.2 L1726.0 1579.4 L1730.0 1579.6 L1734.0 1579.8 L1738.0 1579.9 L1742.0 1580.1 L1746.0 1580.2 L1750.0 1580.4 L1754.0 1580.5 L1758.0 1580.7 L1762.0 1580.8 L1766.0 1580.9 L1770.0 1581.0 L1774.0 1581.1 L1778.0 1581.2 L1782.0 1581.3 L1786.0 1581.4 L1790.0 1581.5 L1794.0 1581.6 L1798.0 1581.7 L1881.5 1582.4" fill="none" stroke="#1a1a1a" stroke-width="3.3" stroke-linejoin="round"/><polyline points="216.5,575.3 219.5,575.7 222.5,575.8 225.5,575.6 228.5,575.2 231.5,574.6 234.5,573.7 237.5,572.6 240.5,571.4 243.5,570.0 246.5,568.4 249.5,566.7 252.5,564.9 255.5,562.9 258.5,560.9 261.5,558.8 264.5,556.6 267.5,554.3 270.5,552.1 273.5,549.8 276.5,547.5 279.5,545.3 282.5,543.0 285.5,540.8 288.5,538.7 291.5,536.6 294.5,534.6 297.5,532.6 300.5,530.7 303.5,528.9 306.5,527.1 309.5,525.3 312.5,523.6 315.5,522.0 318.5,520.5 321.5,519.0 324.5,517.5 327.5,516.2 330.5,514.9 333.5,513.6 336.5,512.4 339.5,511.3 342.5,510.3 345.5,509.3 348.5,508.4 351.5,507.5 354.5,506.7 357.5,506.0 360.5,505.4 363.5,504.8 366.5,504.3 369.5,503.8 372.5,503.4 375.5,503.1 378.5,502.8 381.5,502.6 384.5,502.5 387.5,502.4 390.5,502.4 393.5,502.4 396.5,502.5 399.5,502.7 402.5,502.9 405.5,503.1 408.5,503.4 411.5,503.8 414.5,504.2 417.5,504.7 420.5,505.2 423.5,505.8 426.5,506.4 429.5,507.1 432.5,507.8 435.5,508.6 438.5,509.4 441.5,510.3 444.5,511.2 447.5,512.1 450.5,513.1 453.5,514.1 456.5,515.2 459.5,516.3 462.5,517.5 465.5,518.7 468.5,520.0 471.5,521.2 474.5,522.6 477.5,523.9 480.5,525.3 483.5,526.7 486.5,528.2 489.5,529.7 492.5,531.3 495.5,532.9 498.5,534.5 501.5,536.2 504.5,537.9 507.5,539.6 510.5,541.4 513.5,543.3 516.5,545.1 519.5,547.1 522.5,549.0 525.5,551.0 528.5,553.1 531.5,555.2 534.5,557.3 537.5,559.5 540.5,561.7 543.5,564.0 546.5,566.3 549.5,568.6 552.5,571.1 555.5,573.5 558.5,576.0 561.5,578.5 564.5,581.1 567.5,583.8 570.5,586.4 573.5,589.2 576.5,592.0 579.5,594.8 582.5,597.6 585.5,600.6 588.5,603.5 591.5,606.6 594.5,609.6 597.5,612.8 600.5,615.9 603.5,619.1 606.5,622.4 609.5,625.7 612.5,629.1 615.5,632.5 618.5,636.0 621.5,639.5 624.5,643.1 627.5,646.7 630.5,650.4 633.5,654.2 636.5,658.0 639.5,661.8 642.5,665.7 645.5,669.7 648.5,673.7 651.5,677.7 654.5,681.8 657.5,686.0 660.5,690.3 663.5,694.5 666.5,698.9 669.5,703.3 672.5,707.7 675.5,712.2 678.5,716.8 681.5,721.4 684.5,726.1 687.5,730.9 690.5,735.7 693.5,740.5 696.5,745.5 699.5,750.4 702.5,755.5 705.5,760.6 708.5,765.7 711.5,771.0 714.5,776.3 717.5,781.6 720.5,787.0 723.5,792.5 726.5,798.0 729.5,803.6 732.5,809.3 735.5,815.0 738.5,820.8 741.5,826.7 744.5,832.6 747.5,838.6 750.5,844.7 753.5,850.9 756.5,857.1 759.5,863.5 762.5,869.9 765.5,876.4 768.5,882.9 771.5,889.6 774.5,896.4 777.5,903.2 780.5,910.1 783.5,917.2 786.5,924.3 789.5,931.5 792.5,938.8 795.5,946.2 798.5,953.7 801.5,961.3 804.5,969.0 807.5,976.8 810.5,984.7 813.5,992.6 816.5,1000.7 819.5,1008.7 822.5,1016.9 825.5,1025.1 828.5,1033.3 831.5,1041.5 834.5,1049.8 837.5,1058.0 840.5,1066.3 843.5,1074.6 846.5,1082.9 849.5,1091.1 852.5,1099.4 855.5,1107.7 858.5,1115.9 861.5,1124.1 864.5,1132.3 867.5,1140.5 870.5,1148.7 873.5,1156.8 876.5,1164.9 879.5,1172.9 882.5,1180.9 885.5,1188.9 888.5,1196.8 891.5,1204.7 894.5,1212.5 897.5,1220.2 900.5,1227.9 903.5,1235.6 906.5,1243.1 909.5,1250.7 912.5,1258.1 915.5,1265.5 918.5,1272.9 921.5,1280.2 924.5,1287.4 927.5,1294.6 930.5,1301.8 933.5,1308.9 936.5,1315.9 939.5,1322.9 942.5,1329.9 945.5,1336.9 948.5,1343.9 951.5,1351.3 954.5,1359.0 957.5,1367.2 960.5,1375.5 963.5,1383.7 966.5,1391.6 969.5,1399.0 972.5,1405.9 975.5,1412.4 978.5,1418.5 981.5,1424.4 984.5,1430.0 987.5,1435.4 990.5,1440.7 993.5,1446.0 996.5,1451.2 999.5,1456.4 1002.5,1461.5 1005.5,1466.7 1008.5,1471.9 1011.5,1477.0 1014.5,1482.1 1017.5,1487.1 1020.5,1492.1 1023.5,1496.9 1026.5,1501.7 1029.5,1506.4 1032.5,1511.0 1035.5,1515.5 1038.5,1519.8 1041.5,1524.0 1044.5,1528.0 1047.5,1531.9 1050.5,1535.7 1053.5,1539.2 1056.5,1542.7 1059.5,1546.0 1062.5,1549.1 1065.5,1552.1 1068.5,1554.9 1071.5,1557.6 1074.5,1560.1 1077.5,1562.5 1080.5,1564.8 1083.5,1566.9 1086.5,1568.9 1089.5,1570.7 1092.5,1572.4 1095.5,1574.0 1098.5,1575.4 1101.5,1576.7 1104.5,1577.9 1107.5,1579.0 1110.5,1579.9 1113.5,1580.7 1116.5,1581.3 1119.5,1581.9 1122.5,1582.3 1125.5,1582.6 1128.5,1582.6 1131.5,1582.6 1134.5,1582.6 1881.5,1582.6" fill="none" stroke="#e0283c" stroke-width="3.4" stroke-linejoin="round"/><line x1="374.3" y1="429.5" x2="374.3" y2="1582.6" stroke="#3434e0" stroke-width="3.3"/><line x1="614.5" y1="429.5" x2="614.5" y2="1582.6" stroke="#3434e0" stroke-width="3.3"/><line x1="719.8" y1="429.5" x2="719.8" y2="1582.6" stroke="#3434e0" stroke-width="3.3"/><line x1="771.8" y1="429.5" x2="771.8" y2="1582.6" stroke="#3434e0" stroke-width="3.3"/><line x1="834.9" y1="429.5" x2="834.9" y2="1582.6" stroke="#7a7aff" stroke-width="3.3"/><line x1="883.3" y1="429.5" x2="883.3" y2="1582.6" stroke="#3434e0" stroke-width="3.3"/><line x1="917.5" y1="429.5" x2="917.5" y2="1582.6" stroke="#7a7aff" stroke-width="3.3"/><line x1="957.0" y1="429.5" x2="957.0" y2="1582.6" stroke="#3434e0" stroke-width="3.3"/><line x1="1006.3" y1="429.5" x2="1006.3" y2="1582.6" stroke="#3434e0" stroke-width="3.3"/><line x1="402.2" y1="429.5" x2="402.2" y2="1582.6" stroke="#2a2a2a" stroke-width="3.2"/><line x1="614.8" y1="429.5" x2="614.8" y2="1582.6" stroke="#2a2a2a" stroke-width="3.2"/><line x1="698.9" y1="429.5" x2="698.9" y2="1582.6" stroke="#2a2a2a" stroke-width="3.2"/><line x1="764.8" y1="429.5" x2="764.8" y2="1582.6" stroke="#2a2a2a" stroke-width="3.2"/><line x1="817.4" y1="429.5" x2="817.4" y2="1582.6" stroke="#2a2a2a" stroke-width="3.2"/><line x1="863.3" y1="429.5" x2="863.3" y2="1582.6" stroke="#2a2a2a" stroke-width="3.2"/><line x1="908.3" y1="429.5" x2="908.3" y2="1582.6" stroke="#2a2a2a" stroke-width="3.2"/><line x1="957.2" y1="429.5" x2="957.2" y2="1582.6" stroke="#2a2a2a" stroke-width="3.2"/><line x1="1016.0" y1="429.5" x2="1016.0" y2="1582.6" stroke="#2a2a2a" stroke-width="3.2"/><circle cx="374.5" cy="1262" r="17.5" fill="none" stroke="#3434e0" stroke-width="3.2"/><circle cx="613.6" cy="1268" r="17.5" fill="none" stroke="#3434e0" stroke-width="3.2"/><circle cx="718.1" cy="1219.5" r="17.5" fill="none" stroke="#3434e0" stroke-width="3.2"/><circle cx="772.5" cy="1176.3" r="17.5" fill="none" stroke="#3434e0" stroke-width="3.2"/><circle cx="834.6" cy="1182.5" r="17.5" fill="none" stroke="#3434e0" stroke-width="3.2"/><circle cx="883.2" cy="1217.7" r="17.5" fill="none" stroke="#3434e0" stroke-width="3.2"/><circle cx="918.5" cy="1122.4" r="17.5" fill="none" stroke="#3434e0" stroke-width="3.2"/><circle cx="956.6" cy="1191.5" r="17.5" fill="none" stroke="#3434e0" stroke-width="3.2"/><circle cx="1005.4" cy="1337" r="17.5" fill="none" stroke="#3434e0" stroke-width="3.2"/><circle cx="402" cy="1578" r="17.5" fill="none" stroke="#222" stroke-width="3.2"/><circle cx="613.7" cy="1410.6" r="17.5" fill="none" stroke="#222" stroke-width="3.2"/><circle cx="697.8" cy="1418.4" r="17.5" fill="none" stroke="#222" stroke-width="3.2"/><circle cx="764" cy="1440.8" r="17.5" fill="none" stroke="#222" stroke-width="3.2"/><circle cx="816.9" cy="1460.7" r="17.5" fill="none" stroke="#222" stroke-width="3.2"/><circle cx="863.2" cy="1481.5" r="17.5" fill="none" stroke="#222" stroke-width="3.2"/><circle cx="908.1" cy="1506.6" r="17.5" fill="none" stroke="#222" stroke-width="3.2"/><circle cx="956.5" cy="1529.2" r="17.5" fill="none" stroke="#222" stroke-width="3.2"/><circle cx="1017.7" cy="1567.1" r="17.5" fill="none" stroke="#222" stroke-width="3.2"/><path d="M216.5 1390.4h19 M2164 1390.4h-19 M216.5 1198.1h19 M2164 1198.1h-19 M216.5 1005.9h19 M2164 1005.9h-19 M216.5 813.7h19 M2164 813.7h-19 M216.5 621.5h19 M2164 621.5h-19 M216.5 429.2h19 M2164 429.2h-19 M216.5 237.0h19 M2164 237.0h-19 M606.0 1582.6v-19 M606.0 44.8v19 M995.5 1582.6v-19 M995.5 44.8v19 M1385.0 1582.6v-19 M1385.0 44.8v19 M1774.5 1582.6v-19 M1774.5 44.8v19" stroke="#444" stroke-width="3" fill="none"/><g font-family="Liberation Sans, Arial, sans-serif" font-size="61.5" fill="#262626" stroke="#262626" stroke-width="0.5"><text transform="translate(190 1605.1) scale(0.97 1)" text-anchor="end">0</text><text transform="translate(190 1412.9) scale(0.97 1)" text-anchor="end">10</text><text transform="translate(190 1220.6) scale(0.97 1)" text-anchor="end">20</text><text transform="translate(190 1028.4) scale(0.97 1)" text-anchor="end">30</text><text transform="translate(190 836.2) scale(0.97 1)" text-anchor="end">40</text><text transform="translate(190 644.0) scale(0.97 1)" text-anchor="end">50</text><text transform="translate(190 451.8) scale(0.97 1)" text-anchor="end">60</text><text transform="translate(190 259.5) scale(0.97 1)" text-anchor="end">70</text><text transform="translate(190 67.3) scale(0.97 1)" text-anchor="end">80</text><text transform="translate(215.0 1668.8) scale(0.97 1)" text-anchor="middle">0</text><text transform="translate(604.5 1668.8) scale(0.97 1)" text-anchor="middle">5</text><text transform="translate(994.0 1668.8) scale(0.97 1)" text-anchor="middle">10</text><text transform="translate(1383.5 1668.8) scale(0.97 1)" text-anchor="middle">15</text><text transform="translate(1773.0 1668.8) scale(0.97 1)" text-anchor="middle">20</text><text transform="translate(2162.5 1668.8) scale(0.97 1)" text-anchor="middle">25</text></g><text transform="translate(1188.5 1773.5) scale(0.965 1)" text-anchor="middle" font-family="Liberation Sans, Arial, sans-serif" font-size="87" fill="#262626" stroke="#262626" stroke-width="0.8">X, mm</text><text transform="translate(85.3 812.5) rotate(-90)" text-anchor="middle" font-family="Liberation Sans, Arial, sans-serif" font-size="83" fill="#262626" stroke="#262626" stroke-width="0.8">Phase</text><g font-family="Liberation Sans, Arial, sans-serif" font-size="43" font-weight="bold"><text x="357.5" y="417"><tspan fill="#4646dc">1</tspan></text><text x="387" y="417"><tspan fill="#111">1'</tspan></text><text x="582.5" y="417"><tspan fill="#4646dc">2</tspan><tspan fill="#111">/2'</tspan></text><text x="678" y="417.5"><tspan fill="#111">3'</tspan><tspan fill="#4646dc">3</tspan></text><text x="789" y="417.5"><tspan fill="#111">5'</tspan><tspan fill="#4646dc">5</tspan></text><text x="894" y="417.5"><tspan fill="#111">7'</tspan><tspan fill="#4646dc">7</tspan></text><text x="984.5" y="417.5"><tspan fill="#4646dc">9</tspan><tspan fill="#111">9'</tspan></text><text x="734.5" y="351"><tspan fill="#111">4'</tspan><tspan fill="#4646dc">4</tspan></text><text x="838.5" y="355.5"><tspan fill="#111">6'</tspan><tspan fill="#4646dc">6</tspan></text><text x="936.5" y="355.5"><tspan fill="#4646dc">8</tspan><tspan fill="#111">/8'</tspan></text></g><path d="M750.5 359.8L762.7 422.8 M851 362.6L863.3 422.8 M968.5 370L957.3 422.8" stroke="#111" stroke-width="3.4" fill="none"/><path d="M778.7 359.8L773 421 M886.8 364.5L883 419" stroke="#3434e0" stroke-width="3.4" fill="none"/><rect x="1578.4" y="93.5" width="541" height="300.5" fill="#fff" stroke="#8c8c8c" stroke-width="3.6"/><line x1="1594" y1="145.4" x2="1775" y2="145.4" stroke="#6a6aff" stroke-width="3"/><line x1="1594" y1="243.5" x2="1775" y2="243.5" stroke="#222" stroke-width="3"/><line x1="1594" y1="339" x2="1775" y2="339" stroke="#ee6070" stroke-width="3"/><g font-family="Liberation Sans, Arial, sans-serif" font-size="73" fill="#000" stroke="#000" stroke-width="0.6"><text x="1786" y="177">Exp. hilb.</text><text x="1786" y="273.5">Mod. hilb.</text><text x="1786" y="366.2">Phase</text></g></g></svg></body></html>
